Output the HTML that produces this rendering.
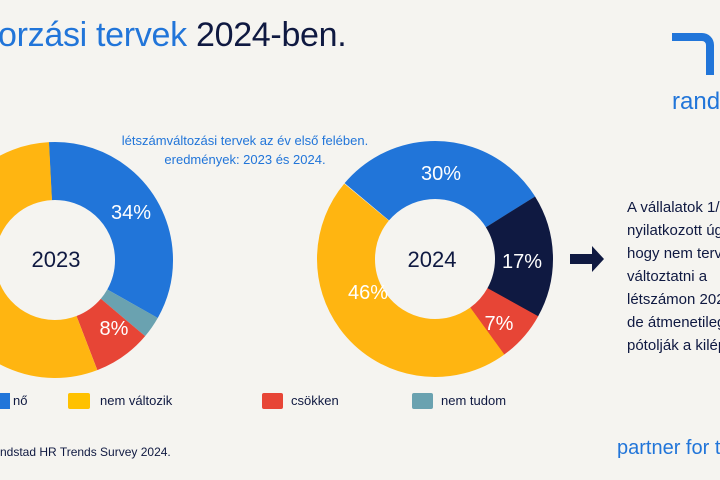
<!DOCTYPE html>
<html><head><meta charset="utf-8"><style>
html,body{margin:0;padding:0;}
body{width:720px;height:480px;background:#f5f4f0;overflow:hidden;position:relative;font-family:"Liberation Sans",sans-serif;}
#w{position:absolute;left:0;top:0;width:720px;height:480px;overflow:hidden;}
.t{position:absolute;white-space:nowrap;}
</style></head><body><div id="w">
<div class="t" style="left:-2px;top:16px;font-size:34px;color:#2175d9;letter-spacing:-0.3px">orzási tervek <span style="color:#0f1941">2024-ben.</span></div>
<div class="t" style="left:0;width:490px;top:131px;text-align:center;font-size:13px;color:#2175d9;line-height:19px">létszámváltozási tervek az év első felében.<br>eredmények: 2023 és 2024.</div>
<svg style="position:absolute;left:0;top:0" width="720" height="480">
<g fill="none" stroke-width="58">
<circle cx="55" cy="260" r="89" stroke="#2175d9" stroke-dasharray="190.1 600" transform="rotate(-93 55 260)"/>
<circle cx="55" cy="260" r="89" stroke="#6aa2b0" stroke-dasharray="16.8 600" transform="rotate(29.4 55 260)"/>
<circle cx="55" cy="260" r="89" stroke="#e74536" stroke-dasharray="44.7 600" transform="rotate(40.2 55 260)"/>
<circle cx="55" cy="260" r="89" stroke="#ffb511" stroke-dasharray="307.6 600" transform="rotate(69 55 260)"/>
<circle cx="435" cy="259" r="89" stroke="#2175d9" stroke-dasharray="167.8 600" transform="rotate(-140 435 259)"/>
<circle cx="435" cy="259" r="89" stroke="#0f1941" stroke-dasharray="95.1 600" transform="rotate(-32 435 259)"/>
<circle cx="435" cy="259" r="89" stroke="#e74536" stroke-dasharray="39.1 600" transform="rotate(29 435 259)"/>
<circle cx="435" cy="259" r="89" stroke="#ffb511" stroke-dasharray="257.3 600" transform="rotate(54 435 259)"/>
</g>
<g font-family="Liberation Sans,sans-serif" text-anchor="middle">
<text x="56" y="267" font-size="22" fill="#0f1941">2023</text>
<text x="432" y="267" font-size="22" fill="#0f1941">2024</text>
<g fill="#fff" font-size="20">
<text x="131" y="219">34%</text><text x="114" y="335">8%</text>
<text x="441" y="180">30%</text><text x="522" y="268">17%</text>
<text x="499" y="330">7%</text><text x="368" y="299">46%</text>
</g></g>
<path d="M570 254h22v-8l12 13-12 13v-8h-22z" fill="#0f1941"/>
<path d="M672 33h30a12 12 0 0 1 12 12v30h-8v-30a4 4 0 0 0-4-4h-30z" fill="#2175d9"/>
<rect x="0" y="393" width="10" height="16" fill="#2175d9"/>
<rect x="68" y="393" width="22" height="16" rx="2" fill="#ffc100"/>
<rect x="262" y="393" width="21" height="16" rx="2" fill="#e74536"/>
<rect x="412" y="393" width="21" height="16" rx="2" fill="#6aa2b0"/>
</svg>
<div class="t" style="left:13px;top:393px;font-size:13px;color:#0f1941">nő</div>
<div class="t" style="left:100px;top:393px;font-size:13px;color:#0f1941">nem változik</div>
<div class="t" style="left:291px;top:393px;font-size:13px;color:#0f1941">csökken</div>
<div class="t" style="left:441px;top:393px;font-size:13px;color:#0f1941">nem tudom</div>
<div class="t" style="left:0;top:445px;font-size:12px;color:#0f1941">ndstad HR Trends Survey 2024.</div>
<div class="t" style="left:672px;top:88px;font-size:24px;color:#2175d9">randstad</div>
<div class="t" style="left:617px;top:437px;font-size:20px;color:#2175d9">partner for talent</div>
<div class="t" style="left:627px;top:196px;font-size:15px;color:#0f1941;line-height:23px">A vállalatok 1/3-a<br>nyilatkozott úgy,<br>hogy nem tervez<br>változtatni a<br>létszámon 2024-ben,<br>de átmenetileg<br>pótolják a kilépőket</div>
</div></body></html>
